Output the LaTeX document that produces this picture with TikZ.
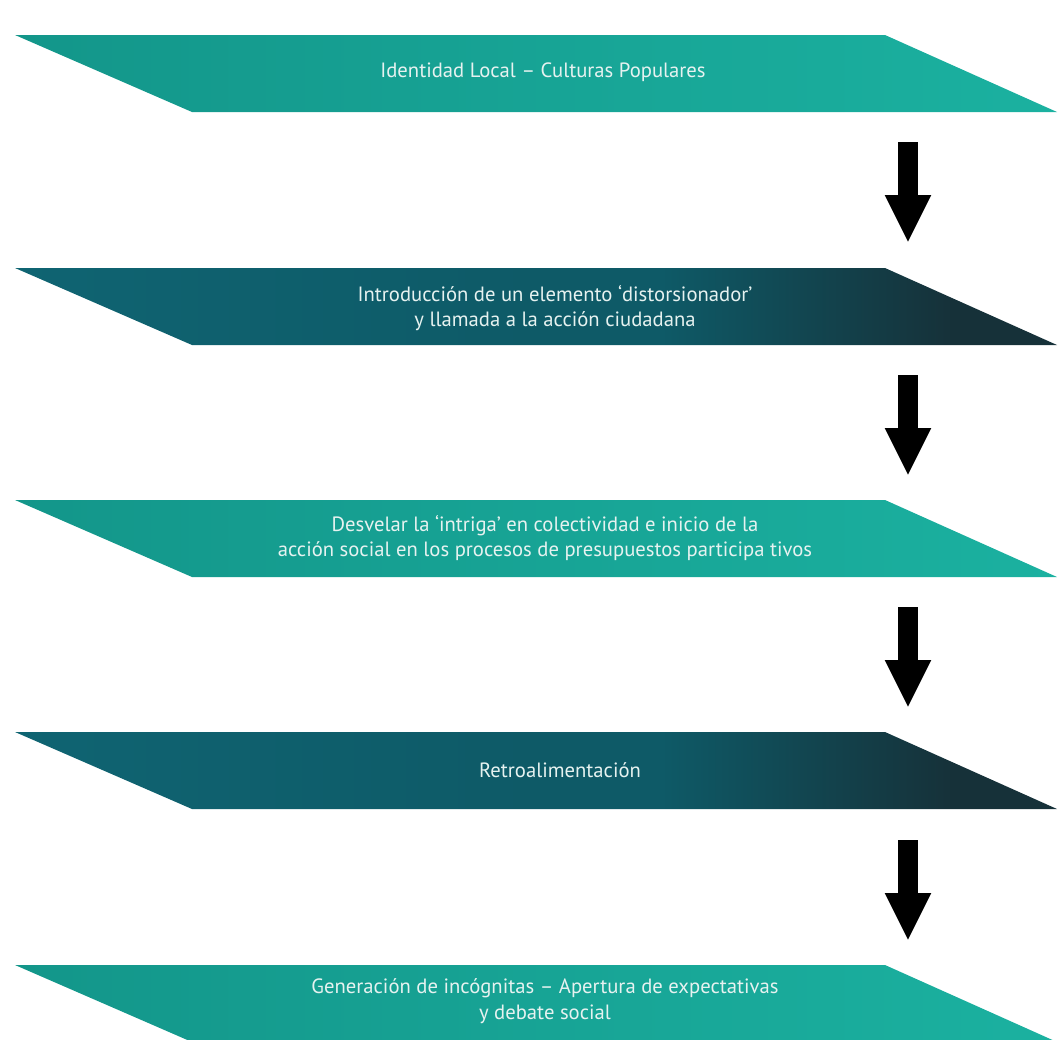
\documentclass[tikz,border=0pt]{standalone}
\usepackage{fontspec}
\setmainfont{PT Sans}
\usetikzlibrary{arrows.meta}
\definecolor{tealL}{HTML}{13968A}
\definecolor{tealR}{HTML}{1BB1A0}
\definecolor{darkL}{HTML}{0F6472}
\definecolor{darkM}{HTML}{0E5A67}
\definecolor{darkR}{HTML}{163139}
\definecolor{txt}{HTML}{E6F2F0}
\pgfdeclarehorizontalshading{darkshade}{100bp}{color(0bp)=(darkL); color(25bp)=(darkL); color(50bp)=(darkM); color(56bp)=(darkM); color(70bp)=(darkR); color(100bp)=(darkR)}
\tikzset{
  px/.style={x=0.75pt,y=-0.75pt},
  lbl/.style={text=txt,font=\fontsize{15.5}{19}\selectfont,align=center,inner sep=0pt},
  tealband/.style={left color=tealL,right color=tealR},
  darkband/.style={shading=darkshade},
  bigarrow/.style={line width=15pt,black,-{Triangle[width=32pt,length=36pt]}}
}
\begin{document}
\begin{tikzpicture}[px]
\useasboundingbox (0,0) rectangle (1059,1039);
\clip (0,0) rectangle (1059,1039);
% bands
\shade[tealband] (15,35) -- (885,35) -- (1057,112) -- (192,112) -- cycle;
\shade[darkband] (15,268) -- (885,268) -- (1057,345) -- (192,345) -- cycle;
\shade[tealband] (15,500) -- (885,500) -- (1057,577) -- (192,577) -- cycle;
\shade[darkband] (15,732) -- (885,732) -- (1057,809) -- (192,809) -- cycle;
\shade[tealband] (15,965) -- (885,965) -- (1057,1042) -- (192,1042) -- cycle;
% labels
\node[lbl] (b1) at (543,72) {Identidad Local – Culturas Populares};
\node[lbl] (b2) at (555,308) {Introducción de un elemento ‘distorsionador’\\y llamada a la acción ciudadana};
\node[lbl] (b3) at (545,538) {Desvelar la ‘intriga’ en colectividad e inicio de la\\acción social en los procesos de presupuestos participa tivos};
\node[lbl] (b4) at (560,770) {Retroalimentación};
\node[lbl] (b5) at (545,1001) {Generación de incógnitas – Apertura de expectativas\\y debate social};
% arrows
\coordinate (a1s) at (908,142); \coordinate (a1e) at (908,243);
\coordinate (a2s) at (908,375); \coordinate (a2e) at (908,476);
\coordinate (a3s) at (908,607); \coordinate (a3e) at (908,708);
\coordinate (a4s) at (908,840); \coordinate (a4e) at (908,941);
\draw[bigarrow] (a1s) -- (a1e);
\draw[bigarrow] (a2s) -- (a2e);
\draw[bigarrow] (a3s) -- (a3e);
\draw[bigarrow] (a4s) -- (a4e);
\end{tikzpicture}
\end{document}
